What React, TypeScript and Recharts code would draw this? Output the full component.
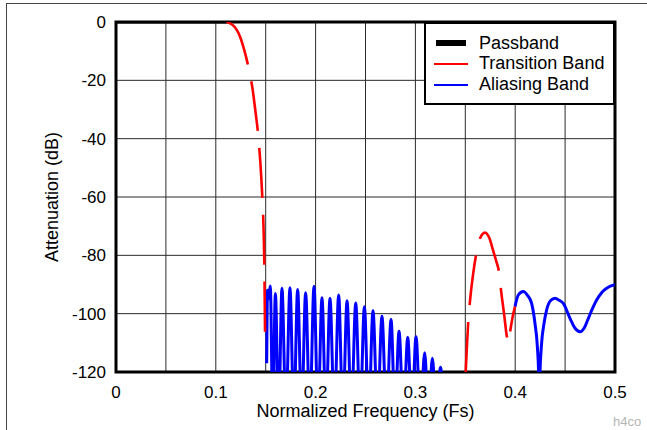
import React from 'react';
import { LineChart, Line, XAxis, YAxis, CartesianGrid, Legend, ReferenceArea, Label } from 'recharts';

const FONT = "'Liberation Sans', Arial, Helvetica, sans-serif";

// tick values
const xTicks = [0, 0.05, 0.1, 0.15, 0.2, 0.25, 0.3, 0.35, 0.4, 0.45, 0.5];
const xLabelTicks = [0, 0.1, 0.2, 0.3, 0.4, 0.5];
const yTicks = [-120, -100, -80, -60, -40, -20, 0];

// series: [normalized frequency, attenuation dB]
const passband: [number, number][] = [
  [0, 0], [0.05, 0], [0.1108, 0],
];

const transitionA: [number, number][] = [
  [0.1108, 0], [0.116, -0.8], [0.121, -2.7], [0.1245, -5.2], [0.1276, -8.5],
  [0.1305, -12.2], [0.1333, -16.5], [0.1366, -22.4], [0.1395, -30], [0.1426, -39.3],
  [0.1446, -48], [0.1466, -60], [0.1476, -68], [0.1483, -77], [0.1488, -88],
  [0.1491, -98], [0.1494, -108],
];

const transitionB: [number, number][] = [
  [0.3504, -120], [0.353, -102.7], [0.3555, -93], [0.358, -86], [0.3607, -80],
  [0.3647, -74.2], [0.3697, -72.2], [0.374, -74], [0.378, -78.5], [0.381, -82],
  [0.384, -86.2], [0.3858, -91.9], [0.389, -100.5], [0.3915, -107.5], [0.3932, -110],
  [0.395, -106], [0.3975, -101], [0.3998, -97.6],
];

const aliasingA: [number, number][] = [
  [0.151, -117], [0.1514, -100], [0.1518, -92], [0.1527, -95], [0.1546, -90.5],
  [0.1571, -135], [0.1597, -93.1], [0.163, -135], [0.1663, -91.3], [0.1703, -135],
  [0.1743, -91.1], [0.1782, -135], [0.182, -91.7], [0.186, -135], [0.19, -92.8],
  [0.1942, -135], [0.1984, -90.6], [0.2024, -135], [0.2064, -94.5], [0.2104, -135],
  [0.2144, -94.7], [0.2188, -135], [0.2231, -93.6], [0.2273, -135], [0.2315, -95.6],
  [0.2358, -135], [0.2402, -96.3], [0.2446, -135], [0.2489, -97.6], [0.2532, -135],
  [0.2575, -99], [0.262, -135], [0.2665, -100.9], [0.271, -135], [0.2756, -102],
  [0.2796, -135], [0.2836, -106], [0.288, -135], [0.2923, -108.2], [0.2965, -135],
  [0.3006, -107.9], [0.305, -135], [0.3093, -113.4], [0.3131, -135], [0.317, -115.3],
  [0.321, -135], [0.325, -118.4], [0.329, -135],
];

const aliasingB: [number, number][] = [
  [0.3998, -97.6], [0.4031, -93.6], [0.4081, -92.4], [0.4125, -93.8], [0.4164, -96.4],
  [0.4198, -103.3], [0.4222, -111.3], [0.4236, -122], [0.4241, -135], [0.4247, -122],
  [0.4262, -111.3], [0.4289, -103.3], [0.4315, -98.7], [0.4355, -95.5], [0.4399, -94.7],
  [0.444, -95.4], [0.4482, -96.5], [0.4549, -101.6], [0.46, -105], [0.4649, -106.2],
  [0.469, -105], [0.4733, -101.6], [0.4775, -98.2], [0.4816, -95.3], [0.4866, -92.8],
  [0.4916, -91.3], [0.496, -90.5], [0.5, -90.1],
];

const legendItems = [
  { name: 'Passband', color: '#000000', thickness: 6, inset: 2, length: 30 },
  { name: 'Transition Band', color: '#ff0000', thickness: 2, inset: 0, length: 34 },
  { name: 'Aliasing Band', color: '#0000ff', thickness: 2, inset: 0, length: 34 },
];

const toRows = (pts: [number, number][]) => pts.map(([f, db]) => ({ f, db }));

const fmtX = (v: number) => {
  const r = Math.round(v * 100);
  if (r % 10 !== 0) return '';
  return r === 0 ? '0' : String(r / 100);
};

const LegendBox = () => (
  <div
    style={{
      boxSizing: 'border-box',
      width: 191,
      height: 83,
      border: '2px solid #000',
      background: '#fff',
      position: 'relative',
      fontFamily: FONT,
      fontSize: 18,
      color: '#000',
    }}
  >
    {legendItems.map((it, i) => (
      <div key={it.name} style={{ position: 'absolute', left: 0, top: 8.5 + i * 20.75, height: 21, width: 185 }}>
        <div
          style={{
            position: 'absolute',
            left: 8 + it.inset,
            top: 10.5 - it.thickness / 2,
            width: it.length,
            height: it.thickness,
            background: it.color,
          }}
        />
        <span style={{ position: 'absolute', left: 53, top: 0, lineHeight: '21px', whiteSpace: 'nowrap' }}>{it.name}</span>
      </div>
    ))}
  </div>
);

const YTitle = (props: any) => {
  const vb = props.viewBox || { x: 56, y: 22, width: 60, height: 350 };
  const cx = vb.x - 4;
  const cy = vb.y + vb.height / 2;
  return (
    <text x={cx} y={cy} transform={`rotate(-90 ${cx} ${cy})`} textAnchor="middle" dominantBaseline="central"
      fontFamily={FONT} fontSize={18} fill="#000">
      Attenuation (dB)
    </text>
  );
};

const XTitle = (props: any) => {
  const vb = props.viewBox || { x: 116, y: 372, width: 499, height: 30 };
  const cx = vb.x + vb.width / 2;
  const cy = vb.y + 39;
  return (
    <text x={cx} y={cy} textAnchor="middle" dominantBaseline="central" fontFamily={FONT} fontSize={18} fill="#000">
      Normalized Frequency (Fs)
    </text>
  );
};

export default function App() {
  return (
    <div style={{ position: 'absolute', left: 0, top: 0, width: 647, height: 430, background: '#fff', overflow: 'hidden' }}>
      <div style={{ position: 'absolute', left: 6, top: 3, width: 660, height: 440, borderTop: '1px solid #444', borderLeft: '1px solid #444' }} />
      <div style={{ position: 'absolute', left: 0, top: 0 }}>
        <LineChart width={647} height={430} margin={{ top: 22, right: 32, bottom: 28, left: 56 }}>
          <CartesianGrid stroke="#2a2a2a" strokeWidth={1} />
          <XAxis
            type="number"
            dataKey="f"
            domain={[0, 0.5]}
            ticks={xTicks}
            tickFormatter={fmtX}
            interval={0}
            allowDataOverflow
            height={30}
            tickLine={false}
            axisLine={false}
            tickSize={6}
            tickMargin={8}
            tick={{ fill: '#000', fontSize: 17, fontFamily: FONT }}
          >
            <Label content={XTitle} />
          </XAxis>
          <YAxis
            type="number"
            domain={[-120, 0]}
            ticks={yTicks}
            interval={0}
            allowDataOverflow
            width={60}
            tickLine={false}
            axisLine={false}
            tickSize={6}
            tickMargin={4}
            tick={{ fill: '#000', fontSize: 17, fontFamily: FONT }}
          >
            <Label content={YTitle} />
          </YAxis>
          <Legend layout="vertical" align="center" verticalAlign="middle"
            wrapperStyle={{ left: 424, top: 22, width: 191, height: 83 }} content={() => <LegendBox />} />
          <Line data={toRows(passband)} dataKey="db" type="linear" stroke="#000" strokeWidth={3}
            dot={false} activeDot={false} isAnimationActive={false} name="Passband" />
          <Line data={toRows(aliasingA)} dataKey="db" type="monotone" stroke="#0000ff" strokeWidth={3}
            dot={false} activeDot={false} isAnimationActive={false} name="Aliasing Band" />
          <Line data={toRows(aliasingB)} dataKey="db" type="monotone" stroke="#0000ff" strokeWidth={3}
            dot={false} activeDot={false} isAnimationActive={false} name="Aliasing Band 2" legendType="none" />
          <Line data={toRows(transitionA)} dataKey="db" type="monotone" stroke="#ff0000" strokeWidth={2.6}
            strokeDasharray="50 17" dot={false} activeDot={false} isAnimationActive={false} name="Transition Band" />
          <Line data={toRows(transitionB)} dataKey="db" type="monotone" stroke="#ff0000" strokeWidth={2.6}
            strokeDasharray="50 17" dot={false} activeDot={false} isAnimationActive={false} name="Transition Band 2" legendType="none" />
          <ReferenceArea x1={0} x2={0.5} y1={-120} y2={0} fill="none" fillOpacity={0} stroke="#000" strokeWidth={3} ifOverflow="visible" />
        </LineChart>
      </div>
      <div style={{ position: 'absolute', left: 613, top: 414, fontFamily: FONT, fontSize: 13, color: '#b5b5b5' }}>h4co</div>
    </div>
  );
}
